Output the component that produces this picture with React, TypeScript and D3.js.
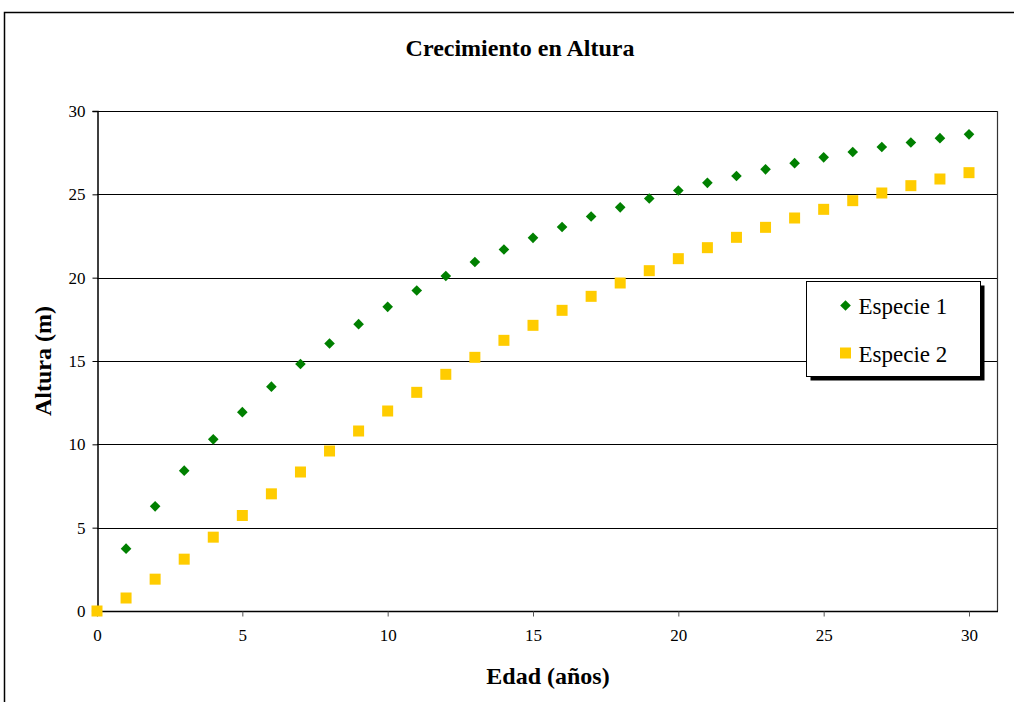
import React, { useEffect, useRef } from "react";
import * as d3 from "d3";

const edades: number[] = d3.range(0, 31);

const especie1: number[] = [
  0, 3.74, 6.28, 8.42, 10.3, 11.93, 13.46, 14.82, 16.05, 17.21, 18.25,
  19.23, 20.1, 20.94, 21.69, 22.39, 23.04, 23.67, 24.22, 24.75, 25.23,
  25.69, 26.1, 26.5, 26.87, 27.22, 27.54, 27.84, 28.11, 28.37, 28.6,
];

const especie2: number[] = [
  0, 0.78, 1.91, 3.11, 4.43, 5.73, 7.03, 8.34, 9.6, 10.8, 12.0,
  13.12, 14.2, 15.22, 16.24, 17.14, 18.04, 18.88, 19.68, 20.42, 21.14,
  21.8, 22.42, 23.02, 23.58, 24.1, 24.62, 25.08, 25.52, 25.92, 26.3,
];

const seriesNames: string[] = ["Especie 1", "Especie 2"];
const seriesColors: string[] = ["#008000", "#FFCC00"];
const xTicks: number[] = [0, 5, 10, 15, 20, 25, 30];
const yTicks: number[] = [0, 5, 10, 15, 20, 25, 30];

const titleText = "Crecimiento en Altura";
const xTitle = "Edad (años)";
const yTitle = "Altura (m)";

const W = 1014;
const H = 702;
const FONT = "'Liberation Serif', 'Times New Roman', serif";

export default function App() {
  const ref = useRef<SVGSVGElement | null>(null);

  useEffect(() => {
    const svg = d3.select(ref.current);
    svg.selectAll("*").remove();

    const plot = { left: 97, right: 997, top: 111, bottom: 611 };
    const x = d3.scaleLinear().domain([0, 30]).range([plot.left, 969]);
    const y = d3.scaleLinear().domain([0, 30]).range([plot.bottom, plot.top]);

    svg.append("rect").attr("width", W).attr("height", H).attr("fill", "#fff");

    // outer chart frame
    svg
      .append("rect")
      .attr("x", 4.5)
      .attr("y", 12.5)
      .attr("width", W + 20)
      .attr("height", H + 20)
      .attr("fill", "none")
      .attr("stroke", "#000")
      .attr("stroke-width", 1.5);

    // title
    svg
      .append("text")
      .attr("x", 520)
      .attr("y", 56)
      .attr("text-anchor", "middle")
      .attr("font-family", FONT)
      .attr("font-weight", "bold")
      .attr("font-size", 24)
      .text(titleText);

    // horizontal gridlines
    svg
      .append("g")
      .selectAll("line")
      .data(yTicks.filter((t) => t > 0))
      .join("line")
      .attr("x1", plot.left)
      .attr("x2", plot.right)
      .attr("y1", (d) => Math.round(y(d)) + 0.5)
      .attr("y2", (d) => Math.round(y(d)) + 0.5)
      .attr("stroke", "#000")
      .attr("stroke-width", 1);

    // right edge of plot area
    svg
      .append("line")
      .attr("x1", plot.right + 0.5)
      .attr("x2", plot.right + 0.5)
      .attr("y1", plot.top)
      .attr("y2", plot.bottom)
      .attr("stroke", "#333")
      .attr("stroke-width", 1.2);

    // y axis
    const yAxis = d3
      .axisLeft(y)
      .tickValues(yTicks)
      .tickSize(5)
      .tickPadding(7)
      .tickFormat(d3.format("d"));
    const gy = svg
      .append("g")
      .attr("transform", `translate(${plot.left + 0.5},0)`)
      .call(yAxis);
    gy.attr("font-family", FONT);
    gy.select(".domain").attr("stroke", "#000").attr("stroke-width", 1.5);
    gy.selectAll(".tick line").attr("stroke", "#000");
    gy.selectAll(".tick text")
      .attr("font-family", FONT)
      .attr("font-size", 17)
      .attr("fill", "#000");

    // x axis
    const xAxis = d3
      .axisBottom(x)
      .tickValues(xTicks)
      .tickSize(5)
      .tickPadding(12)
      .tickFormat(d3.format("d"));
    const gx = svg
      .append("g")
      .attr("transform", `translate(0,${plot.bottom + 0.5})`)
      .call(xAxis);
    gx.attr("font-family", FONT);
    gx.select(".domain")
      .attr("d", `M${plot.left},0H${plot.right + 1}`)
      .attr("stroke", "#000")
      .attr("stroke-width", 1.5);
    gx.selectAll(".tick line").attr("stroke", "#555");
    gx.selectAll(".tick text")
      .attr("font-family", FONT)
      .attr("font-size", 17)
      .attr("fill", "#000");

    // axis titles
    svg
      .append("text")
      .attr("x", 548)
      .attr("y", 684)
      .attr("text-anchor", "middle")
      .attr("font-family", FONT)
      .attr("font-weight", "bold")
      .attr("font-size", 24)
      .text(xTitle);

    svg
      .append("text")
      .attr("transform", `translate(51,361) rotate(-90)`)
      .attr("text-anchor", "middle")
      .attr("font-family", FONT)
      .attr("font-weight", "bold")
      .attr("font-size", 24)
      .text(yTitle);

    const diamond = d3.symbol().type(d3.symbolDiamond2).size(72);

    // series 1: diamonds
    svg
      .append("g")
      .selectAll("path")
      .data(especie1)
      .join("path")
      .attr("d", diamond()!)
      .attr("transform", (d, i) => `translate(${x(edades[i])},${y(d)})`)
      .attr("fill", seriesColors[0]);

    // series 2: squares
    svg
      .append("g")
      .selectAll("rect")
      .data(especie2)
      .join("rect")
      .attr("x", (_d, i) => x(edades[i]) - 5.5)
      .attr("y", (d) => y(d) - 5.5)
      .attr("width", 11)
      .attr("height", 11)
      .attr("fill", seriesColors[1]);

    // legend
    const lg = svg.append("g").attr("transform", "translate(806.5,281.5)");
    lg.append("rect")
      .attr("x", 4)
      .attr("y", 4)
      .attr("width", 174)
      .attr("height", 95)
      .attr("fill", "#000");
    lg.append("rect")
      .attr("width", 174)
      .attr("height", 95)
      .attr("fill", "#fff")
      .attr("stroke", "#000")
      .attr("stroke-width", 1);

    lg.append("path")
      .attr("d", diamond()!)
      .attr("transform", "translate(39,24)")
      .attr("fill", seriesColors[0]);
    lg.append("rect")
      .attr("x", 33.5)
      .attr("y", 66)
      .attr("width", 11)
      .attr("height", 11)
      .attr("fill", seriesColors[1]);

    lg.selectAll("text.lbl")
      .data(seriesNames)
      .join("text")
      .attr("class", "lbl")
      .attr("x", 52)
      .attr("y", (_d, i) => 32 + i * 48)
      .attr("font-family", FONT)
      .attr("font-size", 23)
      .attr("fill", "#000")
      .text((d) => d);
  }, []);

  return (
    <svg
      ref={ref}
      width={W}
      height={H}
      style={{ position: "absolute", left: 0, top: 0, display: "block" }}
    />
  );
}
